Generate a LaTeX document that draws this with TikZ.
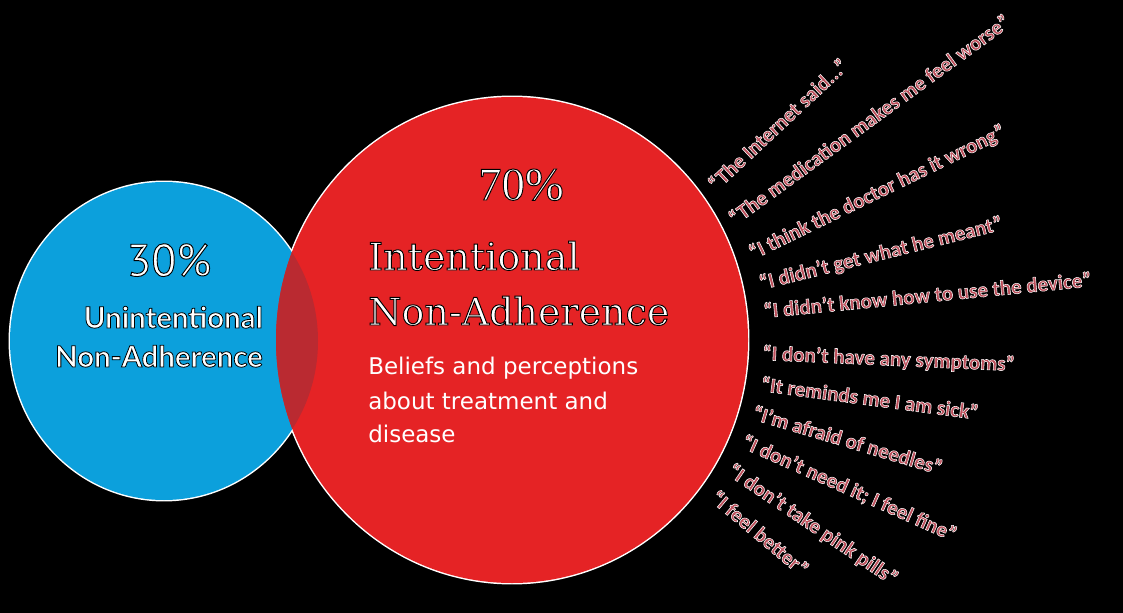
\documentclass[tikz,border=0pt]{standalone}
\usepackage{fontspec}
\setmainfont{DejaVu Sans}
\newfontfamily\quotefont{Carlito}
\newfontfamily\serifdisp{DejaVu Serif}
\newfontfamily\bluefont{Lato}
\newfontfamily\pctsans{PT Sans}
\newfontfamily\pctserif{Liberation Serif}
\definecolor{bgblue}{RGB}{12,160,220}
\definecolor{bgred}{RGB}{229,35,37}
\definecolor{overlapred}{RGB}{186,42,49}
\definecolor{quotepink}{RGB}{188,78,90}

% text drawn filled and stroked: #1 stroke rgb, #2 stroke width (bp), #3 text
\newcommand\strokedtext[3]{\special{pdf:literal direct 2 Tr #1 RG #2 w}#3\special{pdf:literal direct 0 Tr}}

\tikzset{
  quote/.style={font=\quotefont\bfseries\fontsize{15.75}{18}\selectfont, text=quotepink, anchor=base west, inner sep=0pt},
  bigserif/.style={font=\serifdisp\fontsize{28.5}{34}\selectfont, text=white, anchor=base west, inner sep=0pt},
  body/.style={font=\fontsize{17.25}{20}\selectfont, text=white, anchor=base west, inner sep=0pt},
  bluetext/.style={font=\bluefont\bfseries\fontsize{22}{26}\selectfont, text=white, anchor=base east, inner sep=0pt},
  pctblue/.style={font=\pctsans\fontsize{34}{40}\selectfont, text=white, anchor=base, inner sep=0pt},
  pctred/.style={font=\pctserif\fontsize{35}{40}\selectfont, text=white, anchor=base, inner sep=0pt},
}

\begin{document}
\begin{tikzpicture}[x=0.75pt,y=-0.75pt]
\useasboundingbox (0,0) rectangle (1123,613);
\fill[black] (0,0) rectangle (1123,613);

% white outline of the union
\draw[white, line width=2.2pt] (164,341) ellipse [x radius=115.5pt, y radius=119.25pt];
\draw[white, line width=2.2pt] (512,340) ellipse [x radius=177pt, y radius=182.25pt];
% circles
\fill[bgblue] (164,341) ellipse [x radius=115.5pt, y radius=119.25pt];
\fill[bgred] (512,340) ellipse [x radius=177pt, y radius=182.25pt];
\begin{scope}
  \clip (164,341) ellipse [x radius=115.5pt, y radius=119.25pt];
  \fill[overlapred] (512,340) ellipse [x radius=177pt, y radius=182.25pt];
\end{scope}

% blue circle texts
\node[pctblue] (p30) at (169,276) {\strokedtext{0 0 0}{0.7}{30\%}};
\node[bluetext] (u1) at (263,328) {\strokedtext{0 0 0}{0.6}{Unintentional}};
\node[bluetext] (u2) at (263,367) {\strokedtext{0 0 0}{0.6}{Non-Adherence}};

% red circle texts
\node[pctred] (p70) at (521,200) {\strokedtext{0 0 0}{0.7}{70\%}};
\node[bigserif] (i1) at (368,270) {\strokedtext{0 0 0}{0.7}{Intentional}};
\node[bigserif] (i2) at (368,325) {\strokedtext{0 0 0}{0.7}{Non-Adherence}};
\node[body] (b1) at (368,374) {Beliefs and perceptions};
\node[body] (b2) at (368,409) {about treatment and};
\node[body] (b3) at (368,442) {disease};

% quotes
\foreach \x/\y/\a/\t [count=\i] in {
  716/192/43/{“The Internet said...”},
  735/226/36/{“The medication makes me feel worse”},
  753/260/26/{“I think the doctor has it wrong”},
  761/290/14/{“I didn’t get what he meant”},
  764/318/5.5/{“I didn’t know how to use the device”},
  762/360/-2.5/{“I don’t have any symptoms”},
  760/391/-7.5/{“It reminds me I am sick”},
  751/419/-16.5/{“I’m afraid of needles”},
  740/447/-24/{“I don’t need it; I feel fine”},
  726/474/-34/{“I don’t take pink pills”},
  709/500/-40/{“I feel better”}}
{
  \node[quote, rotate=\a] (q\i) at (\x,\y) {\strokedtext{1 1 1}{0.4}{\t}};
}
\end{tikzpicture}
\end{document}
